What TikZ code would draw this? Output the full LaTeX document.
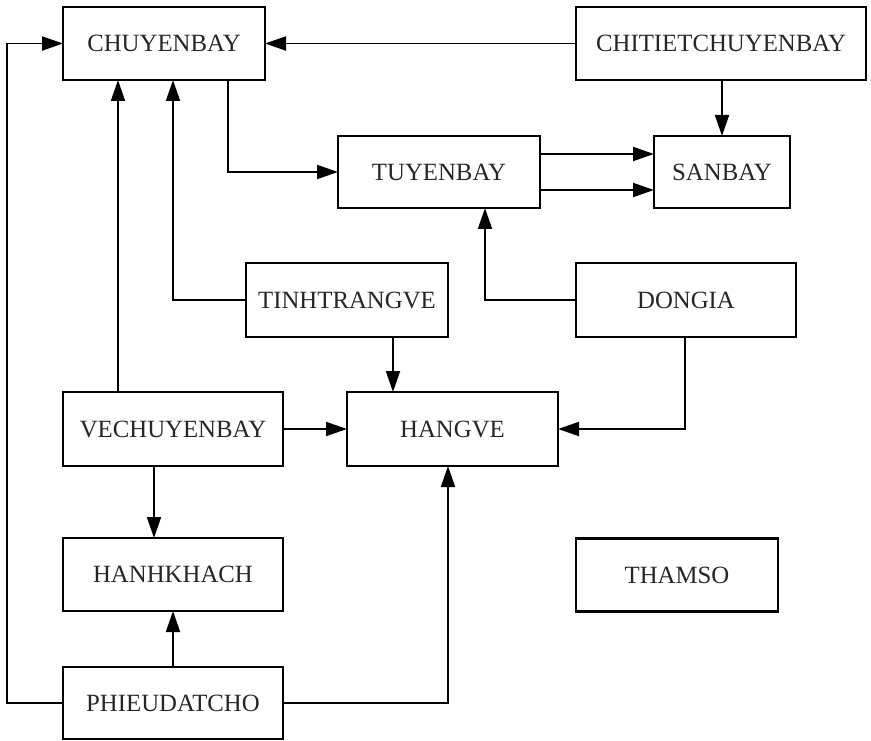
\documentclass[tikz,border=0pt]{standalone}
\usepackage{fontspec}
\setmainfont{Liberation Serif}
\usetikzlibrary{arrows.meta,calc}
\begin{document}
\begin{tikzpicture}[x=1pt,y=-1pt,
  tbl/.style={draw, line width=2.1pt, fill=white, inner sep=0pt, outer sep=0pt,
    minimum height=73pt, font=\fontsize{24.8}{28}\selectfont, text=black!85},
  arr/.style={line width=1.9pt, -{Triangle[length=21pt,width=14pt]}}]
\fill[white] (0,0) rectangle (871,741);
\useasboundingbox (0,0) rectangle (871,741);

% tables
\node[tbl, minimum width=202pt] (CB)  at (164,43.5)  {CHUYENBAY};
\node[tbl, minimum width=290pt] (CT)  at (721,43.5)  {CHITIETCHUYENBAY};
\node[tbl, minimum width=202pt, minimum height=72pt] (TB) at (439,172) {TUYENBAY};
\node[tbl, minimum width=136pt, minimum height=72pt] (SB) at (722,172) {SANBAY};
\node[tbl, minimum width=202pt, minimum height=74pt] (TT) at (347,300) {TINHTRANGVE};
\node[tbl, minimum width=220pt, minimum height=74pt] (DG) at (686,300) {DONGIA};
\node[tbl, minimum width=220pt, minimum height=74pt] (VE) at (173,429) {VECHUYENBAY};
\node[tbl, minimum width=211pt, minimum height=74pt] (HV) at (452.5,429) {HANGVE};
\node[tbl, minimum width=220pt] (HK) at (173,574.5) {HANHKHACH};
\node[tbl, minimum width=202pt] (TS) at (677,575) {THAMSO};
\node[tbl, minimum width=220pt, minimum height=72pt] (PD) at (173,703) {PHIEUDATCHO};

% routing guides
\coordinate (gx7)   at (7,0);
\coordinate (gx118) at (118,0);
\coordinate (gx154) at (154,0);
\coordinate (gx173) at (173,0);
\coordinate (gx228) at (228,0);
\coordinate (gx393) at (393,0);
\coordinate (gx448) at (448,0);
\coordinate (gx485) at (485,0);
\coordinate (gx685) at (685,0);
\coordinate (gy154) at (0,154);
\coordinate (gy190) at (0,190);

% connectors
\draw[arr] (CT.west) -- (CB.east);
\draw[arr] (CT.south -| SB.north) -- (SB.north);
\draw[arr] (CB.south -| gx228) |- (TB.west);
\draw[arr] (TB.east |- gy154) -- (SB.west |- gy154);
\draw[arr] (TB.east |- gy190) -- (SB.west |- gy190);
\draw[arr] (DG.west) -| (TB.south -| gx485);
\draw[arr] (TT.west) -| (CB.south -| gx173);
\draw[arr] (VE.north -| gx118) -- (CB.south -| gx118);
\draw[arr] (TT.south -| gx393) -- (HV.north -| gx393);
\draw[arr] (DG.south -| gx685) |- (HV.east);
\draw[arr] (VE.east) -- (HV.west);
\draw[arr] (VE.south -| gx154) -- (HK.north -| gx154);
\draw[arr] (PD.north -| gx173) -- (HK.south -| gx173);
\draw[arr] (PD.west) -| (gx7 |- CB.west) -- (CB.west);
\draw[arr] (PD.east) -| (HV.south -| gx448);
\end{tikzpicture}
\end{document}
